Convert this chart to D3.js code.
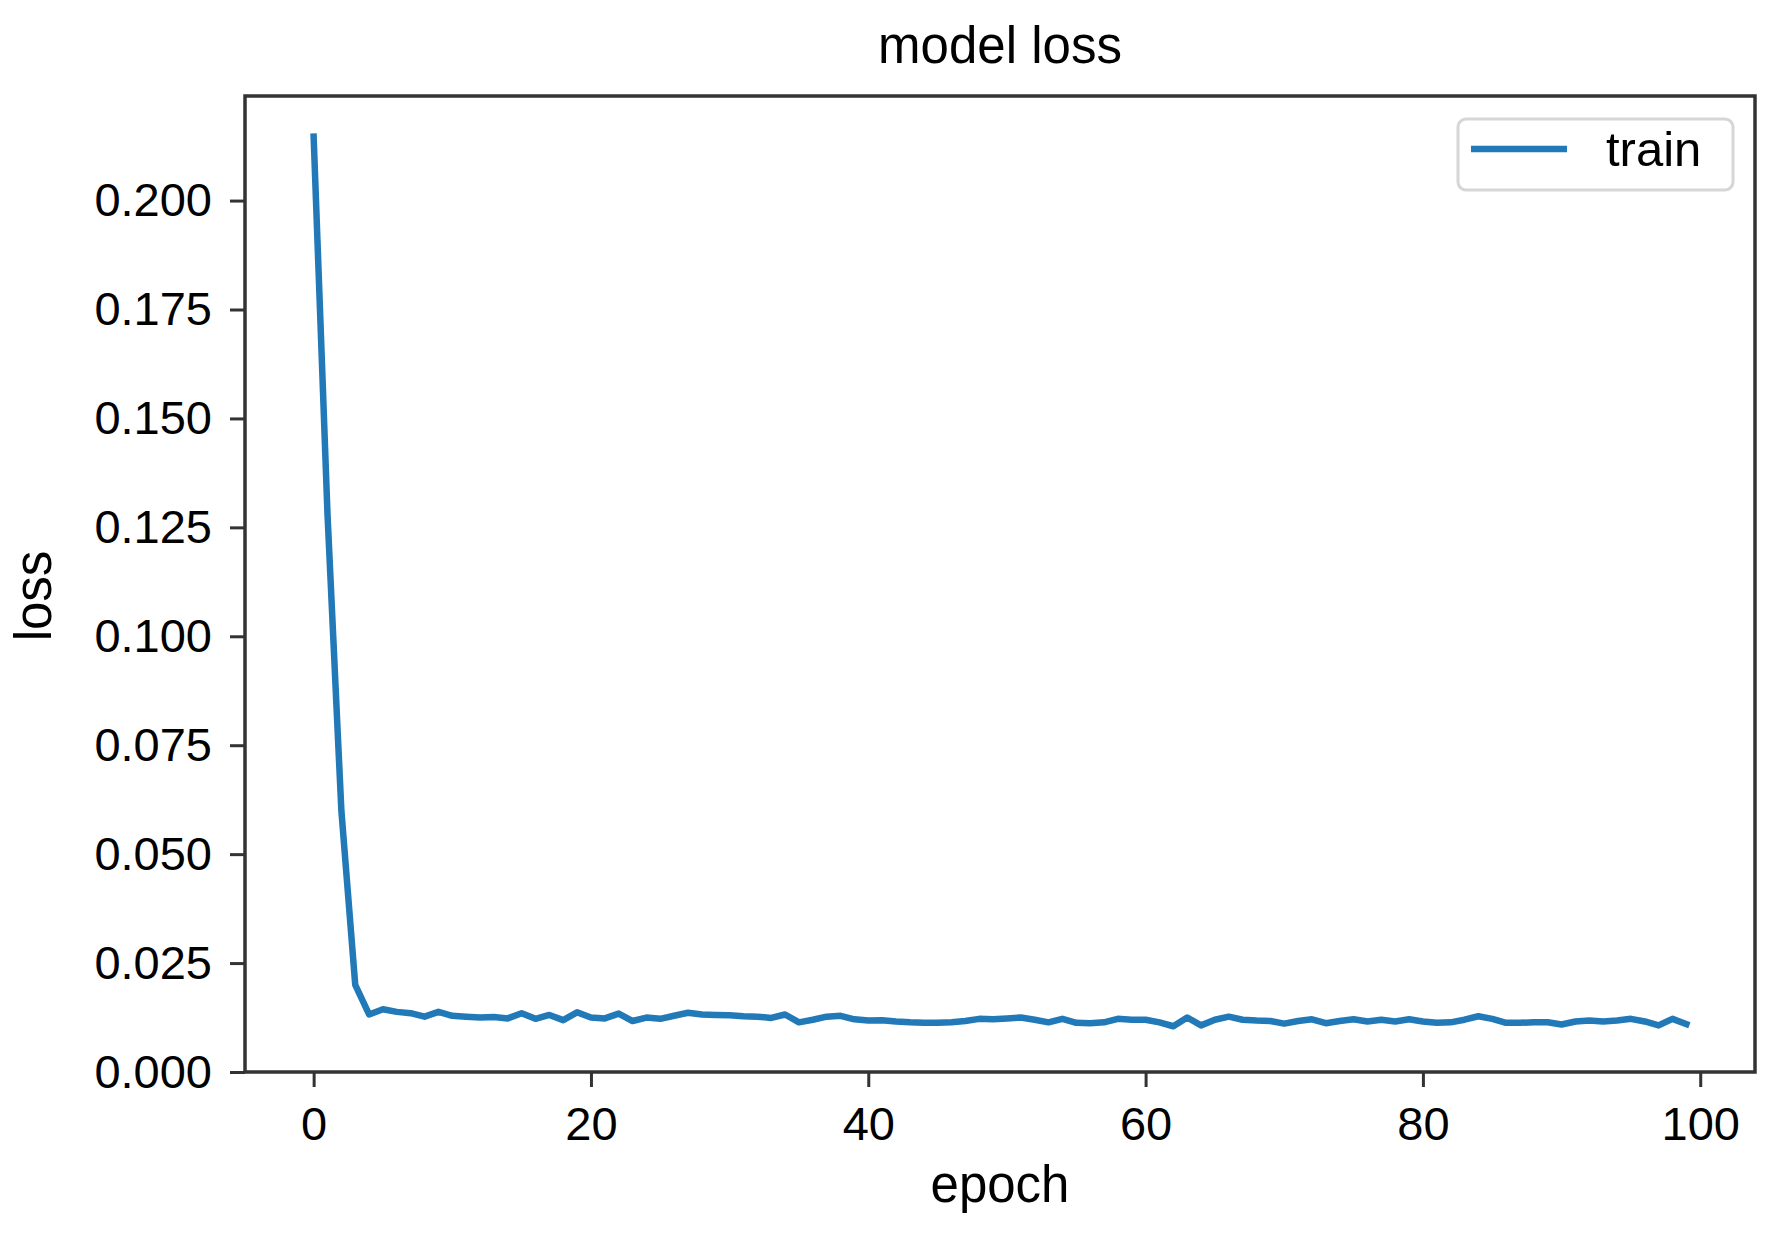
<!DOCTYPE html>
<html>
<head>
<meta charset="utf-8">
<script src="https://cdn.jsdelivr.net/npm/d3@7"></script>
<style>
  html, body { margin: 0; padding: 0; background: #ffffff; }
  svg text { font-family: "Liberation Sans", Arial, Helvetica, sans-serif; fill: #000; }
</style>
</head>
<body>
<svg id="chart" width="1772" height="1234"></svg>
<script>
// ---- data ----
const epochs = d3.range(0, 100);
const trainLoss = [
  0.2147, 0.1280, 0.0600, 0.0200, 0.0132, 0.0144, 0.0138, 0.0135, 0.0127, 0.0138,
  0.0129, 0.0127, 0.0125, 0.0126, 0.0123, 0.0135, 0.0122, 0.0131, 0.0119, 0.0137,
  0.0125, 0.0123, 0.0134, 0.0117, 0.0125, 0.0122, 0.0129, 0.0136, 0.0132, 0.0131,
  0.0130, 0.0128, 0.0127, 0.0124, 0.0132, 0.0114, 0.0120, 0.0127, 0.0129, 0.0121,
  0.0118, 0.0119, 0.0116, 0.0114, 0.0113, 0.0113, 0.0114, 0.0117, 0.0122, 0.0121,
  0.0123, 0.0125, 0.0120, 0.0114, 0.0122, 0.0113, 0.0112, 0.0114, 0.0122, 0.0120,
  0.0120, 0.0114, 0.0105, 0.0125, 0.0107, 0.0120, 0.0127, 0.0120, 0.0118, 0.0117,
  0.0111, 0.0117, 0.0121, 0.0112, 0.0117, 0.0121, 0.0116, 0.0120, 0.0116, 0.0121,
  0.0116, 0.0113, 0.0114, 0.0120, 0.0128, 0.0122, 0.0113, 0.0113, 0.0114, 0.0114,
  0.0109, 0.0116, 0.0118, 0.0116, 0.0118, 0.0122, 0.0116, 0.0107, 0.0122, 0.0110
];
const xTicks = [0, 20, 40, 60, 80, 100];
const yTicks = [0.000, 0.025, 0.050, 0.075, 0.100, 0.125, 0.150, 0.175, 0.200];
const seriesName = "train";
const titleText = "model loss";
const xLabel = "epoch";
const yLabel = "loss";

// ---- layout ----
const plot = { left: 245, right: 1755, top: 96, bottom: 1072 };
const lineColor = "#2279b8";
const spineColor = "#333333";

const svg = d3.select("#chart");
svg.append("rect").attr("width", 1772).attr("height", 1234).attr("fill", "#ffffff");

const x = d3.scaleLinear().domain([-4.95, 103.95]).range([plot.left, plot.right]);
const y = d3.scaleLinear().domain([0, 0.224]).range([plot.bottom, plot.top]);

// line
const line = d3.line().x((d, i) => x(epochs[i])).y(d => y(d));
svg.append("path")
  .datum(trainLoss)
  .attr("d", line)
  .attr("fill", "none")
  .attr("stroke", lineColor)
  .attr("stroke-width", 6.5)
  .attr("stroke-linejoin", "round")
  .attr("stroke-linecap", "square");

// axes
const xAxis = d3.axisBottom(x).tickValues(xTicks).tickFormat(d3.format("d")).tickSize(15).tickPadding(16);
const yAxis = d3.axisLeft(y).tickValues(yTicks).tickFormat(d3.format(".3f")).tickSize(15).tickPadding(18);

const gx = svg.append("g").attr("transform", `translate(0,${plot.bottom})`).call(xAxis);
const gy = svg.append("g").attr("transform", `translate(${plot.left},0)`).call(yAxis);
[gx, gy].forEach(g => {
  g.select(".domain").remove();
  g.selectAll(".tick line").attr("stroke", spineColor).attr("stroke-width", 3);
  g.selectAll(".tick text").attr("font-size", 47).attr("fill", "#000")
    .style("font-family", "'Liberation Sans', Arial, sans-serif");
});
gx.selectAll(".tick text").attr("dy", null).attr("y", 68);

// spines
svg.append("rect")
  .attr("x", plot.left).attr("y", plot.top)
  .attr("width", plot.right - plot.left).attr("height", plot.bottom - plot.top)
  .attr("fill", "none").attr("stroke", spineColor).attr("stroke-width", 3.5);

// title & labels
svg.append("text").attr("x", (plot.left + plot.right) / 2).attr("y", 63)
  .attr("text-anchor", "middle").attr("font-size", 51).text(titleText);
svg.append("text").attr("x", (plot.left + plot.right) / 2).attr("y", 1202)
  .attr("text-anchor", "middle").attr("font-size", 51).text(xLabel);
svg.append("text").attr("transform", `translate(51,596) rotate(-90)`)
  .attr("text-anchor", "middle").attr("font-size", 51).text(yLabel);

// legend
const lg = svg.append("g");
lg.append("rect").attr("x", 1458).attr("y", 119).attr("width", 275).attr("height", 71)
  .attr("rx", 8).attr("ry", 8)
  .attr("fill", "#ffffff").attr("fill-opacity", 0.8)
  .attr("stroke", "#d6d6d6").attr("stroke-width", 3);
lg.append("line").attr("x1", 1471).attr("x2", 1567).attr("y1", 149).attr("y2", 149)
  .attr("stroke", lineColor).attr("stroke-width", 6.5);
lg.append("text").attr("x", 1606).attr("y", 166).attr("font-size", 49).text(seriesName);
</script>
</body>
</html>
